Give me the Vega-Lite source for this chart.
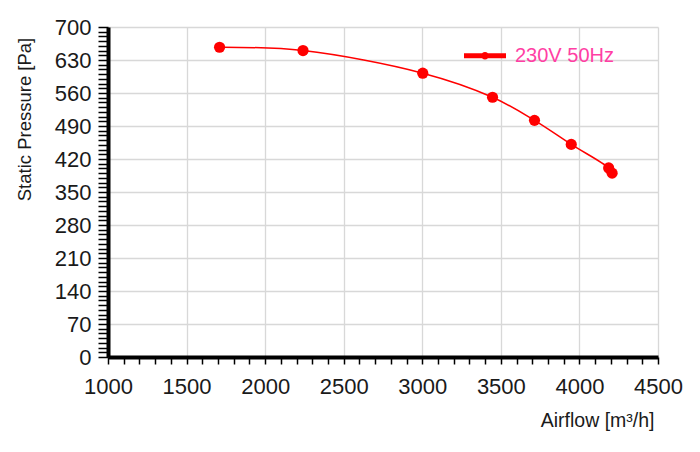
{
  "$schema": "https://vega.github.io/schema/vega-lite/v6.json",
  "width": 550,
  "height": 330,
  "autosize": "none",
  "padding": {"left": 108, "top": 27, "right": 42, "bottom": 95},
  "background": "white",
  "config": {
    "view": {"stroke": null},
    "font": "Liberation Sans"
  },
  "data": {
    "values": [
      {"airflow": 1710, "pressure": 657, "series": "230V 50Hz"},
      {"airflow": 2241, "pressure": 650, "series": "230V 50Hz"},
      {"airflow": 3003, "pressure": 602, "series": "230V 50Hz"},
      {"airflow": 3447, "pressure": 551, "series": "230V 50Hz"},
      {"airflow": 3714, "pressure": 502, "series": "230V 50Hz"},
      {"airflow": 3948, "pressure": 451, "series": "230V 50Hz"},
      {"airflow": 4186, "pressure": 401, "series": "230V 50Hz"},
      {"airflow": 4208, "pressure": 390, "series": "230V 50Hz"}
    ]
  },
  "encoding": {
    "x": {
      "field": "airflow",
      "type": "quantitative",
      "scale": {"domain": [1000, 4500], "nice": false, "zero": false},
      "axis": {
        "title": "Airflow [m³/h]",
        "values": [1000,1100,1200,1300,1400,1500,1600,1700,1800,1900,2000,2100,2200,2300,2400,2500,2600,2700,2800,2900,3000,3100,3200,3300,3400,3500,3600,3700,3800,3900,4000,4100,4200,4300,4400,4500],
        "labelExpr": "datum.value % 500 === 0 ? format(datum.value, 'd') : ''",
        "labelOverlap": false,
        "labelFlush": false,
        "labelFontSize": 22,
        "labelColor": "#1a1a1a",
        "labelPadding": 12,
        "tickSize": 7,
        "tickWidth": 1.5,
        "tickColor": "#000000",
        "domainColor": "#000000",
        "domainWidth": 4,
        "grid": true,
        "gridColor": "#d8d8d8",
        "gridWidth": 1.3,
        "gridOpacity": {"condition": {"test": "datum.value % 500 === 0", "value": 1}, "value": 0},
        "titleFontSize": 19.5,
        "titleFontWeight": "normal",
        "titleColor": "#1a1a1a",
        "titleAlign": "right",
        "titleBaseline": "middle",
        "titleX": 546,
        "titleY": 63
      }
    },
    "y": {
      "field": "pressure",
      "type": "quantitative",
      "scale": {"domain": [0, 700], "nice": false, "zero": true},
      "axis": {
        "title": "Static Pressure [Pa]",
        "values": [0,10,20,30,40,50,60,70,80,90,100,110,120,130,140,150,160,170,180,190,200,210,220,230,240,250,260,270,280,290,300,310,320,330,340,350,360,370,380,390,400,410,420,430,440,450,460,470,480,490,500,510,520,530,540,550,560,570,580,590,600,610,620,630,640,650,660,670,680,690,700],
        "labelExpr": "datum.value % 70 === 0 ? format(datum.value, 'd') : ''",
        "labelOverlap": false,
        "labelFlush": false,
        "labelFontSize": 22,
        "labelColor": "#1a1a1a",
        "labelPadding": 7,
        "tickSize": 10,
        "tickWidth": 1.5,
        "tickColor": "#000000",
        "domainColor": "#000000",
        "domainWidth": 4,
        "grid": true,
        "gridColor": "#d8d8d8",
        "gridWidth": 1.3,
        "gridOpacity": {"condition": {"test": "datum.value % 70 === 0", "value": 1}, "value": 0},
        "titleFontSize": 18.5,
        "titleFontWeight": "normal",
        "titleColor": "#1a1a1a",
        "titleAngle": 270,
        "titleAlign": "center",
        "titleBaseline": "middle",
        "titleX": -84,
        "titleY": 92
      }
    }
  },
  "layer": [
    {
      "mark": {"type": "line", "interpolate": "catmull-rom", "color": "#ff0000", "strokeWidth": 1.5}
    },
    {
      "mark": {"type": "point", "filled": true, "shape": "circle", "size": 125, "opacity": 1},
      "encoding": {
        "color": {
          "field": "series",
          "type": "nominal",
          "scale": {"domain": ["230V 50Hz"], "range": ["#ff0000"]},
          "legend": {
            "title": null,
            "orient": "none",
            "legendX": 356,
            "legendY": 7.7,
            "padding": 0,
            "symbolType": "M-1,-0.12H1V0.12H-1Z M0.18,0A0.18,0.18,0,1,1,-0.18,0A0.18,0.18,0,1,1,0.18,0Z",
            "symbolSize": 1764,
            "symbolStrokeWidth": 0,
            "symbolOpacity": 1,
            "symbolFillColor": "#ff0000",
            "labelFontSize": 20,
            "labelColor": "#ff3fa4",
            "labelOffset": 9,
            "labelBaseline": "middle"
          }
        }
      }
    }
  ]
}
